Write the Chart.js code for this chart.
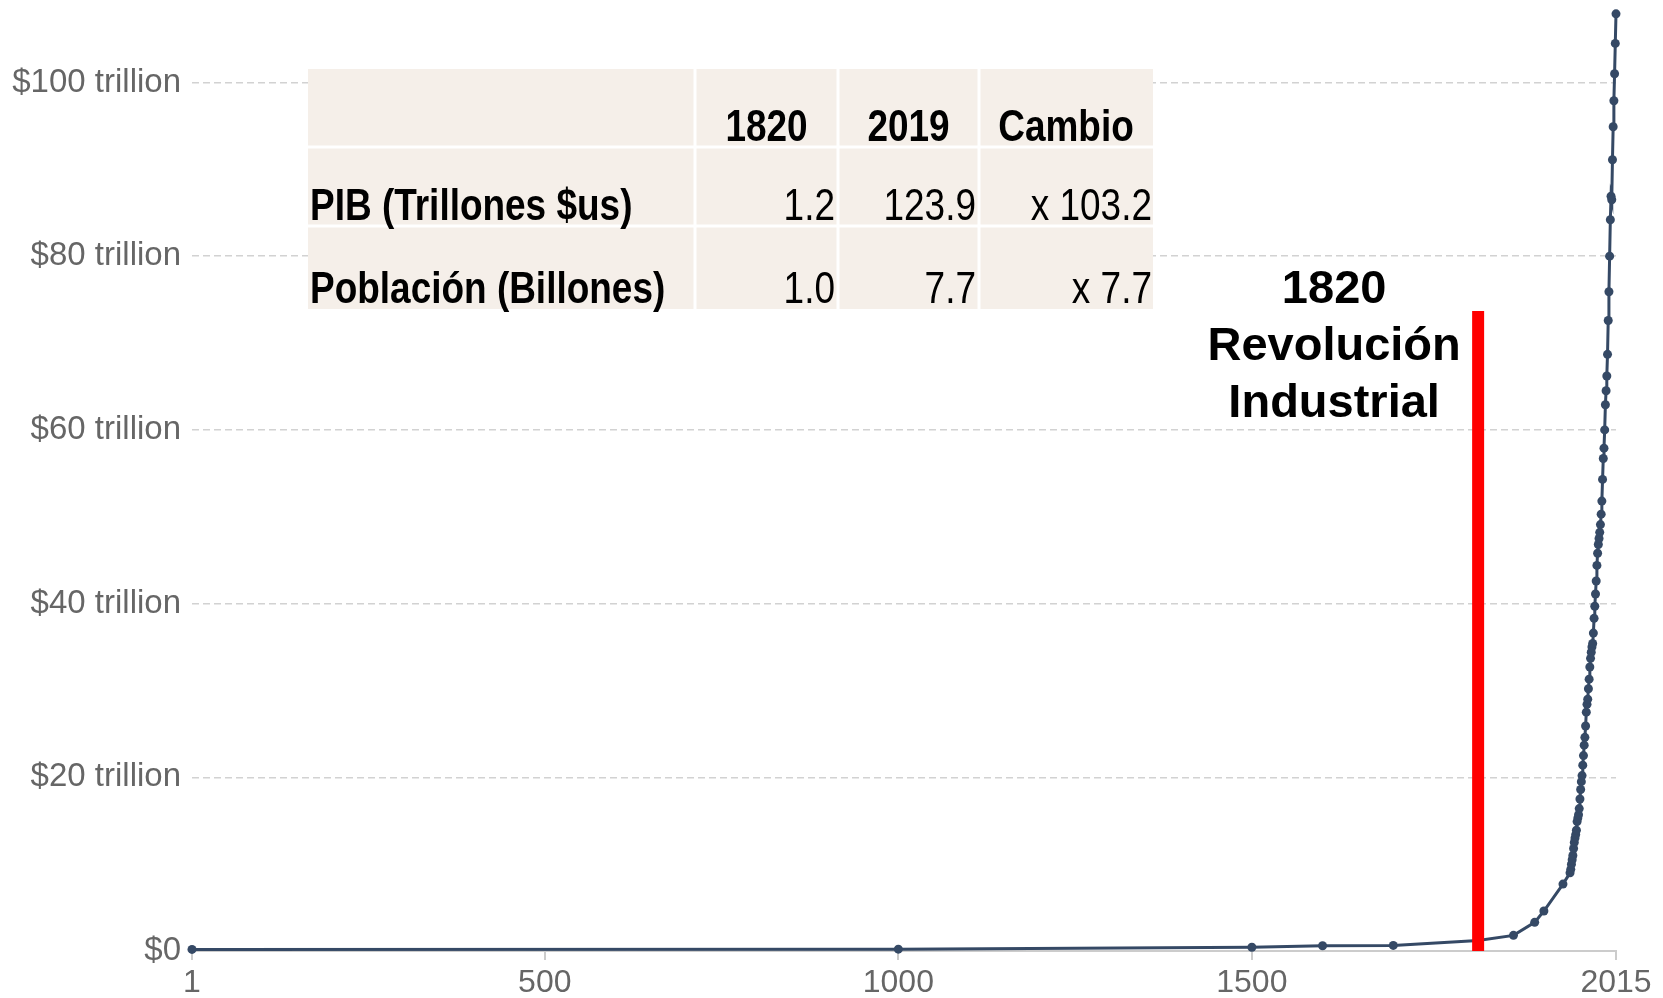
<!DOCTYPE html>
<html lang="es">
<head>
<meta charset="UTF-8">
<title>PIB mundial</title>
<script src="https://cdn.jsdelivr.net/npm/chart.js"></script>
<style>
  html, body { margin: 0; padding: 0; background: #fff; }
</style>
</head>
<body>
<canvas id="gdp_chart" width="1663" height="998"></canvas>
<script>
  // PIB mundial (billones de dólares internacionales)
  const years = [1, 1000, 1500, 1600, 1700, 1820, 1870, 1900, 1913, 1940,
    1950, 1951, 1952, 1953, 1954, 1955, 1956, 1957, 1958, 1959,
    1960, 1961, 1962, 1963, 1964, 1965, 1966, 1967, 1968, 1969,
    1970, 1971, 1972, 1973, 1974, 1975, 1976, 1977, 1978, 1979,
    1980, 1981, 1982, 1983, 1984, 1985, 1986, 1987, 1988, 1989,
    1990, 1991, 1992, 1993, 1994, 1995, 1996, 1997, 1998, 1999,
    2000, 2001, 2002, 2003, 2004, 2005, 2006, 2007, 2008, 2009,
    2010, 2011, 2012, 2013, 2014, 2015];
  const gdp = [0.18, 0.21, 0.43, 0.60, 0.64, 1.2, 1.8, 3.3, 4.6, 7.7,
    9.0, 9.4, 10.0, 10.5, 11.0, 11.8, 12.5, 13.0, 13.4, 13.9,
    14.9, 15.3, 15.7, 16.4, 17.5, 18.6, 19.5, 20.2, 21.4, 22.5,
    23.7, 24.6, 25.9, 27.5, 28.4, 29.0, 30.2, 31.3, 32.7, 33.7,
    34.4, 35.0, 35.4, 36.6, 38.3, 39.7, 41.1, 42.6, 44.4, 45.8,
    46.8, 47.5, 48.2, 49.1, 50.3, 51.8, 54.3, 56.7, 57.9, 60.0,
    62.9, 64.5, 66.2, 68.7, 72.6, 75.9, 80.0, 84.2, 86.9, 86.5,
    91.1, 94.9, 97.9, 101.0, 104.5, 107.9];

  const xTicks = [1, 500, 1000, 1500, 2015];
  const yTicks = [0, 20, 40, 60, 80, 100];

  // marca de la revolución industrial
  const markerYear = 1820;
  const markerTop = 73.7;
  const noteLines = ['1820', 'Revolución', 'Industrial'];

  // tabla resumen
  const tableHead = ['1820', '2019', 'Cambio'];
  const tableLabels = ['PIB (Trillones $us)', 'Población (Billones)'];
  const table1820 = ['1.2', '1.0'];
  const table2019 = ['123.9', '7.7'];
  const tableChange = ['x 103.2', 'x 7.7'];

  const lineColor = '#354965';
  const fontFamily = '"Liberation Sans", Arial, Helvetica, sans-serif';

  function narrowText(ctx, text, x, y, align, sx) {
    ctx.save();
    ctx.translate(x, y);
    ctx.scale(sx, 1);
    ctx.textAlign = align;
    ctx.fillText(text, 0, 0);
    ctx.restore();
  }

  const overlayPlugin = {
    id: 'overlay',
    afterDraw(chart) {
      const ctx = chart.ctx;
      ctx.save();

      // tabla
      const left = 308, right = 1153, top = 69, bottom = 309;
      const cols = [left, 695, 838, 979, right];
      const rows = [top, 147, 226, bottom];
      ctx.fillStyle = '#f5efe9';
      ctx.fillRect(left, top, right - left, bottom - top);
      ctx.strokeStyle = '#ffffff';
      ctx.lineWidth = 3;
      ctx.beginPath();
      for (let i = 1; i < cols.length - 1; i++) {
        ctx.moveTo(cols[i], top); ctx.lineTo(cols[i], bottom);
      }
      for (let j = 1; j < rows.length - 1; j++) {
        ctx.moveTo(left, rows[j]); ctx.lineTo(right, rows[j]);
      }
      ctx.stroke();

      ctx.fillStyle = '#000';
      ctx.textBaseline = 'alphabetic';
      const sx = 0.84;
      ctx.font = 'bold 44px ' + fontFamily;
      for (let i = 0; i < tableHead.length; i++) {
        narrowText(ctx, tableHead[i], (cols[i + 1] + cols[i + 2]) / 2, rows[1] - 6, 'center', sx);
      }
      for (let r = 0; r < tableLabels.length; r++) {
        const base = rows[r + 2] - 6;
        ctx.font = 'bold 44px ' + fontFamily;
        narrowText(ctx, tableLabels[r], left + 2, base, 'left', sx);
        ctx.font = '44px ' + fontFamily;
        narrowText(ctx, table1820[r], cols[2] - 3, base, 'right', sx);
        narrowText(ctx, table2019[r], cols[3] - 3, base, 'right', sx);
        narrowText(ctx, tableChange[r], cols[4] - 1, base, 'right', sx);
      }

      // nota junto a la marca
      const mx = chart.scales.x.getPixelForValue(markerYear);
      ctx.font = 'bold 47px ' + fontFamily;
      ctx.textAlign = 'center';
      const baselines = [303, 360, 417];
      noteLines.forEach((t, i) => ctx.fillText(t, mx - 144, baselines[i]));

      ctx.restore();
    }
  };

  new Chart(document.getElementById('gdp_chart'), {
    type: 'line',
    data: {
      datasets: [
        {
          label: 'Revolución Industrial',
          data: [{x: markerYear, y: 0}, {x: markerYear, y: markerTop}],
          borderColor: '#ff0000',
          borderWidth: 12,
          borderCapStyle: 'butt',
          pointRadius: 0,
          clip: false
        },
        {
          label: 'PIB mundial',
          data: years.map((yr, i) => ({x: yr, y: gdp[i]})),
          borderColor: lineColor,
          backgroundColor: lineColor,
          borderWidth: 3,
          pointRadius: 4.5,
          pointBorderWidth: 0,
          tension: 0,
          clip: false
        }
      ]
    },
    options: {
      responsive: false,
      animation: false,
      layout: { padding: { top: 13, right: 47, left: 0, bottom: 0 } },
      plugins: { legend: { display: false }, tooltip: { enabled: false } },
      scales: {
        x: {
          type: 'linear',
          min: 1,
          max: 2015,
          afterBuildTicks: s => { s.ticks = xTicks.map(v => ({value: v})); },
          afterFit: s => { s.height = 47; s.paddingLeft = 0; s.paddingRight = 0; },
          ticks: {
            color: '#666',
            font: { size: 32, family: fontFamily },
            padding: 4,
            maxRotation: 0,
            autoSkip: false,
            callback: v => String(v)
          },
          grid: { drawOnChartArea: false, drawTicks: true, tickLength: 9, color: '#cccccc', lineWidth: 2 },
          border: { display: true, color: '#cccccc', width: 2 }
        },
        y: {
          min: 0,
          max: 108,
          afterBuildTicks: s => { s.ticks = yTicks.map(v => ({value: v})); },
          afterFit: s => { s.width = 192; s.paddingTop = 0; s.paddingBottom = 0; },
          ticks: {
            color: '#666',
            font: { size: 33, family: fontFamily },
            padding: 11,
            callback: v => v === 0 ? '$0' : '$' + v + ' trillion'
          },
          grid: {
            drawTicks: false,
            lineWidth: 1.5,
            borderDash: [7, 4],
            color: c => (c.tick && c.tick.value === 0) ? 'rgba(0,0,0,0)' : '#d2d2d2'
          },
          border: { display: false, dash: [7, 4] }
        }
      }
    },
    plugins: [overlayPlugin]
  });
</script>
</body>
</html>
